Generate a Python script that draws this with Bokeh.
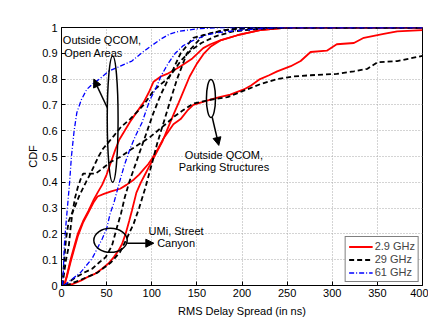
from bokeh.plotting import figure
from bokeh.models import Arrow, NormalHead, FixedTicker, Legend, LegendItem, Label
from bokeh.embed import file_html
from bokeh.resources import INLINE

# ---------------- data ----------------
x_ticks = [0, 50, 100, 150, 200, 250, 300, 350, 400]
y_ticks = [0, 0.1, 0.2, 0.3, 0.4, 0.5, 0.6, 0.7, 0.8, 0.9, 1.0]
y_tick_labels = ["0", "0.1", "0.2", "0.3", "0.4", "0.5", "0.6", "0.7", "0.8", "0.9", "1"]
legend_labels = ["2.9 GHz", "29 GHz", "61 GHz"]

# 2.9 GHz (red)
red_open_x = [3, 6, 10, 14, 18, 24, 30, 36, 40, 45, 50, 55, 60, 64, 70, 76, 83, 91, 97, 102, 110, 117, 125, 132, 145, 157, 165, 176, 195, 220, 250, 400]
red_open_y = [0, 0.04, 0.1, 0.15, 0.2, 0.25, 0.29, 0.335, 0.36, 0.39, 0.43, 0.48, 0.53, 0.565, 0.6, 0.635, 0.67, 0.71, 0.75, 0.79, 0.81, 0.82, 0.835, 0.85, 0.88, 0.92, 0.935, 0.95, 0.97, 0.99, 1.0, 1.0]

red_park_x = [3, 6, 10, 14, 18, 24, 30, 36, 40, 47, 55, 65, 72, 80, 86, 91, 96, 100, 107, 113, 119, 124, 132, 140, 146, 155, 165, 175, 187, 202, 210, 220, 230, 239, 254, 265, 276, 294, 305, 324, 335, 357, 372, 400]
red_park_y = [0, 0.035, 0.09, 0.14, 0.19, 0.245, 0.285, 0.325, 0.345, 0.355, 0.365, 0.375, 0.39, 0.41, 0.43, 0.45, 0.47, 0.49, 0.53, 0.57, 0.6, 0.625, 0.645, 0.68, 0.7, 0.71, 0.72, 0.73, 0.74, 0.76, 0.775, 0.8, 0.815, 0.83, 0.85, 0.87, 0.905, 0.91, 0.935, 0.94, 0.96, 0.975, 0.985, 0.99]

red_umi_x = [5, 12, 22, 30, 37, 45, 52, 58, 63, 67, 71, 75, 78, 83, 88, 94, 100, 106, 112, 119, 125, 130, 136, 142, 150, 158, 165, 176, 195, 220, 250, 400]
red_umi_y = [0, 0.005, 0.02, 0.035, 0.045, 0.065, 0.085, 0.11, 0.135, 0.16, 0.2, 0.25, 0.29, 0.36, 0.4, 0.44, 0.48, 0.52, 0.56, 0.62, 0.67, 0.71, 0.76, 0.81, 0.86, 0.9, 0.925, 0.95, 0.97, 0.99, 1.0, 1.0]

# 29 GHz (black dashed)
blk_open_x = [1, 2, 3.5, 5, 8, 13, 20, 27, 33, 41, 46, 52, 58, 66, 76, 83, 91, 102, 110, 117, 124, 132, 143, 155, 170, 190, 220, 260, 400]
blk_open_y = [0, 0.05, 0.12, 0.18, 0.25, 0.29, 0.35, 0.4, 0.44, 0.5, 0.53, 0.555, 0.58, 0.615, 0.645, 0.67, 0.7, 0.755, 0.78, 0.8, 0.83, 0.87, 0.91, 0.94, 0.965, 0.985, 0.995, 1.0, 1.0]

blk_park_x = [1, 3, 5, 8, 10, 12, 15, 18, 21, 24, 38, 44, 55, 66, 76, 87, 98, 110, 117, 125, 135, 146, 165, 184, 202, 220, 239, 257, 276, 305, 324, 339, 350, 372, 400]
blk_park_y = [0, 0.05, 0.1, 0.15, 0.22, 0.28, 0.34, 0.38, 0.41, 0.434, 0.434, 0.45, 0.48, 0.5, 0.525, 0.55, 0.575, 0.61, 0.63, 0.655, 0.68, 0.705, 0.72, 0.73, 0.755, 0.78, 0.8, 0.81, 0.815, 0.82, 0.83, 0.84, 0.865, 0.87, 0.89]

blk_umi_x = [3, 15, 25, 34, 42, 49, 56, 61, 66, 70, 75, 80, 85, 90, 95, 102, 110, 117, 124, 132, 146, 168, 190, 230, 400]
blk_umi_y = [0, 0.03, 0.05, 0.065, 0.09, 0.11, 0.155, 0.22, 0.28, 0.34, 0.4, 0.45, 0.5, 0.55, 0.6, 0.67, 0.74, 0.79, 0.84, 0.9, 0.96, 0.98, 0.995, 1.0, 1.0]

blk_b4_x = [5, 20, 40, 55, 65, 72, 80, 86, 93, 100, 106, 113, 120, 128, 139, 157, 180, 220, 400]
blk_b4_y = [0, 0.02, 0.05, 0.09, 0.13, 0.18, 0.24, 0.3, 0.38, 0.47, 0.55, 0.63, 0.71, 0.8, 0.9, 0.97, 0.99, 1.0, 1.0]

# 61 GHz (blue dash-dot)
blu_open_x = [1, 2, 3, 4.5, 6.5, 9, 11, 14, 17, 22, 28, 34, 42, 52, 65, 78, 90, 100, 110, 120, 130, 150, 180, 400]
blu_open_y = [0, 0.05, 0.15, 0.22, 0.3, 0.4, 0.5, 0.6, 0.67, 0.72, 0.76, 0.78, 0.8, 0.83, 0.85, 0.87, 0.905, 0.93, 0.955, 0.975, 0.985, 0.995, 1.0, 1.0]

blu_umi_x = [3, 10, 21, 34, 45, 50, 54, 58, 65, 70, 76, 82, 89, 98, 104, 110, 118, 126, 135, 146, 160, 172, 200, 240, 400]
blu_umi_y = [0, 0.02, 0.05, 0.105, 0.18, 0.22, 0.28, 0.32, 0.41, 0.47, 0.53, 0.58, 0.63, 0.72, 0.76, 0.81, 0.86, 0.9, 0.93, 0.95, 0.97, 0.98, 0.99, 1.0, 1.0]

# ---------------- figure ----------------
FONT = "Liberation Sans"
p = figure(frame_width=361, frame_height=258, x_range=(0, 400), y_range=(0, 1),
           output_backend="svg", toolbar_location=None,
           min_border_left=61, min_border_top=27, min_border_right=6, min_border_bottom=4,
           background_fill_color="white", border_fill_color="white")
p.outline_line_color = "black"
p.outline_line_width = 1
p.outline_line_alpha = 1

for ax in (p.xaxis[0], p.yaxis[0]):
    ax.major_tick_in = 4
    ax.major_tick_out = 0
    ax.minor_tick_in = 0
    ax.minor_tick_out = 0
    ax.axis_line_color = "black"
    ax.major_tick_line_color = "black"
    ax.major_label_text_font = FONT
    ax.major_label_text_font_size = "11px"
    ax.major_label_text_color = "black"
    ax.axis_label_text_font = FONT
    ax.axis_label_text_font_size = "11px"
    ax.axis_label_text_font_style = "normal"
    ax.axis_label_text_color = "black"

p.xaxis.ticker = FixedTicker(ticks=x_ticks)
p.yaxis.ticker = FixedTicker(ticks=y_ticks)
p.yaxis.major_label_overrides = {t: l for t, l in zip(y_ticks, y_tick_labels)}
p.xaxis.axis_label = "RMS Delay Spread (in ns)"
p.yaxis.axis_label = "CDF"
p.xaxis.major_label_standoff = 3
p.xaxis.axis_label_standoff = 5
p.yaxis.major_label_standoff = 4
p.yaxis.axis_label_standoff = 0

p.xgrid.ticker = FixedTicker(ticks=x_ticks)
p.ygrid.ticker = FixedTicker(ticks=y_ticks)
for g in (p.xgrid[0], p.ygrid[0]):
    g.grid_line_color = "#a8a8a8"
    g.grid_line_dash = "1 2"
    g.grid_line_width = 1

RED, BLK, BLU = "#ff0000", "#000000", "#0000ff"
r1 = p.line(red_open_x, red_open_y, line_color=RED, line_width=1.8)
p.line(red_park_x, red_park_y, line_color=RED, line_width=1.8)
p.line(red_umi_x, red_umi_y, line_color=RED, line_width=1.8)
r2 = p.line(blk_open_x, blk_open_y, line_color=BLK, line_width=1.8, line_dash="5 3")
p.line(blk_park_x, blk_park_y, line_color=BLK, line_width=1.8, line_dash="5 3")
p.line(blk_umi_x, blk_umi_y, line_color=BLK, line_width=1.8, line_dash="5 3")
p.line(blk_b4_x, blk_b4_y, line_color=BLK, line_width=1.8, line_dash="5 3")
r3 = p.line(blu_open_x, blu_open_y, line_color=BLU, line_width=1.3, line_dash="5 2 1 2")
p.line(blu_umi_x, blu_umi_y, line_color=BLU, line_width=1.3, line_dash="5 2 1 2")

# ---------------- annotations ----------------
p.ellipse(x=[56.7], y=[0.645], width=12, height=0.49, fill_color=None, line_color="black", line_width=1.5)
p.ellipse(x=[165.6], y=[0.725], width=10, height=0.147, fill_color=None, line_color="black", line_width=1.5)
p.ellipse(x=[54.3], y=[0.175], width=37, height=0.093, fill_color=None, line_color="black", line_width=1.5)

def arrow(x0, y0, x1, y1):
    p.add_layout(Arrow(end=NormalHead(size=8, fill_color="black", line_color="black"),
                       x_start=x0, y_start=y0, x_end=x1, y_end=y1,
                       line_color="black", line_width=1.5))

arrow(50.6, 0.69, 35.8, 0.80)
arrow(167, 0.652, 174.3, 0.543)
arrow(72.8, 0.164, 102.3, 0.164)

# (text, x, y, align)
texts = [("Outside QCOM,", 1.5, 0.95, "left"), ("Open Areas", 3.0, 0.903, "left"),
         ("Outside QCOM,", 180, 0.504, "center"), ("Parking Structures", 180, 0.461, "center"),
         ("UMi, Street", 127, 0.21, "center"), ("Canyon", 127, 0.164, "center")]
for t, tx, ty, al in texts:
    p.add_layout(Label(x=tx, y=ty, text=t, text_font=FONT, text_font_size="11px",
                       text_align=al, text_baseline="middle", text_color="black"))

legend = Legend(items=[LegendItem(label=legend_labels[0], renderers=[r1]),
                       LegendItem(label=legend_labels[1], renderers=[r2]),
                       LegendItem(label=legend_labels[2], renderers=[r3])],
                location="bottom_right", margin=3, padding=3, spacing=1,
                glyph_width=24, glyph_height=11, label_height=11, label_standoff=2,
                label_text_font=FONT, label_text_font_size="11px",
                border_line_color="black", border_line_width=1,
                background_fill_alpha=1)
p.add_layout(legend)

open("out.html", "w").write(file_html(p, INLINE))
